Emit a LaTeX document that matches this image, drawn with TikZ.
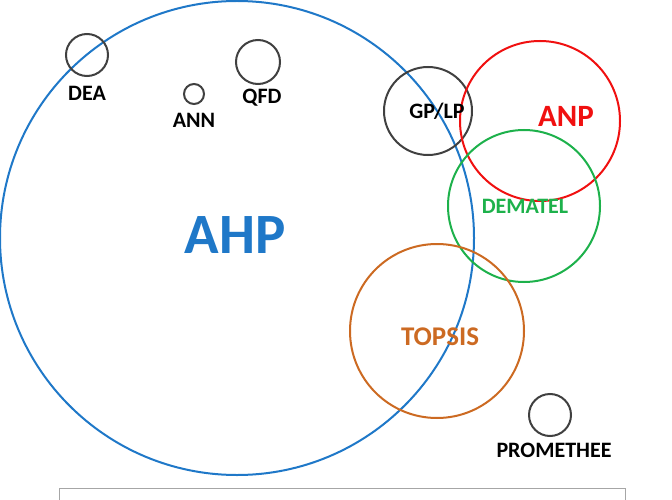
\documentclass[tikz,border=0pt]{standalone}
\usepackage{fontspec}
\setmainfont{Carlito}
\definecolor{ahpblue}{HTML}{1F78C8}
\definecolor{anpred}{HTML}{F01010}
\definecolor{demgreen}{HTML}{1DB14B}
\definecolor{topor}{HTML}{CC6A22}
\definecolor{ringgrey}{HTML}{404040}
\tikzset{
  ring/.style={circle, draw, line width=2pt, inner sep=0pt},
  greyring/.style={ring, draw=ringgrey},
  lbl/.style={font=\bfseries\fontsize{22}{22}\selectfont, text=black, inner sep=0pt},
}
\begin{document}
\begin{tikzpicture}[x=1pt,y=-1pt]
\useasboundingbox (0,0) rectangle (672,500);
\node[ring, draw=ahpblue, minimum size=474pt] (ahp) at (237,238) {};
\node[greyring, minimum size=42pt] (dea) at (87,55) {};
\node[greyring, minimum size=20pt] (ann) at (194,94) {};
\node[greyring, minimum size=44pt] (qfd) at (258,62) {};
\node[greyring, minimum size=88pt] (gplp) at (428,111) {};
\node[ring, draw=anpred, minimum size=160pt] (anp) at (540,121) {};
\node[ring, draw=demgreen, minimum size=152pt] (dem) at (524,206) {};
\node[ring, draw=topor, minimum size=174pt] (top) at (437,331) {};
\node[greyring, minimum size=42pt] (prom) at (550,415) {};
\node[lbl] (tdea) at (87,93) {DEA};
\node[lbl] (tann) at (194,120) {ANN};
\node[lbl] (tqfd) at (262,98) {QFD};
\node[lbl] (tgplp) at (437,111) {GP/LP};
\node[lbl] (tprom) at (554,450) {PROMETHEE};
\node[lbl, text=anpred, font=\bfseries\fontsize{31}{31}\selectfont] (tanp) at (566,116) {ANP};
\node[lbl, text=demgreen] (tdem) at (525,206) {DEMATEL};
\node[lbl, text=topor, font=\bfseries\fontsize{27}{27}\selectfont] (ttop) at (440,337) {TOPSIS};
\node[lbl, text=ahpblue, font=\bfseries\fontsize{57}{57}\selectfont] (tahp) at (235,235) {AHP};
\node[draw=gray!70, line width=1pt, minimum width=566pt, minimum height=30pt, anchor=north west, inner sep=0pt] (box) at (59,488) {};
\end{tikzpicture}
\end{document}
